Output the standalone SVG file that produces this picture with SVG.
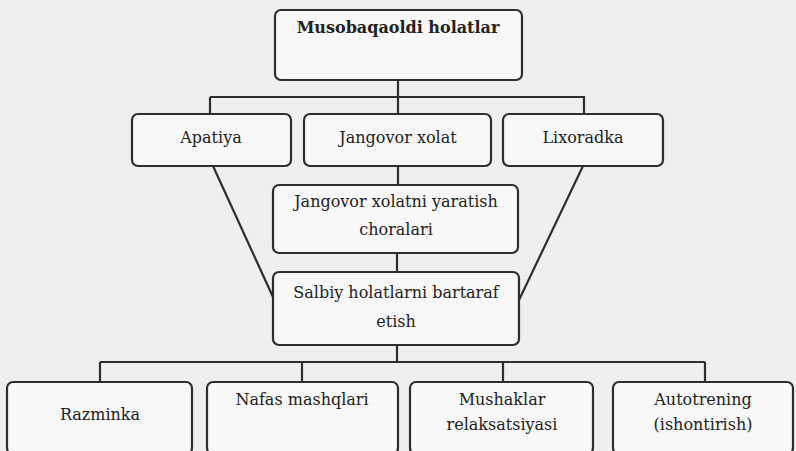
<svg xmlns="http://www.w3.org/2000/svg" width="796" height="451" viewBox="0 0 796 451">
<style>
.box{fill:#f8f8f8;stroke:#2e2e2e;stroke-width:2.2}
.t{font-family:"DejaVu Serif","Liberation Serif",serif;font-size:16px;fill:#222;text-anchor:middle}
.b{font-weight:bold}
.c{stroke:#2e2e2e;stroke-width:2.2;fill:none}
</style>
<rect width="796" height="451" fill="#efefef"/>
<g id="connectors">
<path class="c" d="M398 80V97M210 97H585M210 97V114M398 97V114M584 97V114"/>
<path class="c" d="M398 166V185M397 253V272"/>
<path class="c" d="M213 166L273 297M583 166L519 300"/>
<path class="c" d="M397 345V362M100 362H705M100 362V382M302 362V382M503 362V382M705 362V382"/>
</g>
<g id="n1"><rect class="box" x="275" y="10" width="247" height="70" rx="6"/><text class="t b" x="398" y="33">Musobaqaoldi holatlar</text></g>
<g id="n2"><rect class="box" x="132" y="114" width="159" height="52" rx="6"/><text class="t" x="211" y="143">Apatiya</text></g>
<g id="n3"><rect class="box" x="304" y="114" width="187" height="52" rx="6"/><text class="t" x="398" y="143">Jangovor xolat</text></g>
<g id="n4"><rect class="box" x="503" y="114" width="160" height="52" rx="6"/><text class="t" x="583" y="143">Lixoradka</text></g>
<g id="n5"><rect class="box" x="273" y="185" width="245" height="68" rx="6"/><text class="t" x="396" y="207">Jangovor xolatni yaratish</text><text class="t" x="396" y="235">choralari</text></g>
<g id="n6"><rect class="box" x="273" y="272" width="246" height="73" rx="6"/><text class="t" x="396" y="298">Salbiy holatlarni bartaraf</text><text class="t" x="396" y="327">etish</text></g>
<g id="n7"><rect class="box" x="7" y="382" width="185" height="72" rx="6"/><text class="t" x="100" y="420">Razminka</text></g>
<g id="n8"><rect class="box" x="207" y="382" width="191" height="72" rx="6"/><text class="t" x="302" y="405">Nafas mashqlari</text></g>
<g id="n9"><rect class="box" x="410" y="382" width="183" height="72" rx="6"/><text class="t" x="502" y="405">Mushaklar</text><text class="t" x="502" y="430">relaksatsiyasi</text></g>
<g id="n10"><rect class="box" x="613" y="382" width="180" height="72" rx="6"/><text class="t" x="703" y="405">Autotrening</text><text class="t" x="703" y="430">(ishontirish)</text></g>
</svg>
